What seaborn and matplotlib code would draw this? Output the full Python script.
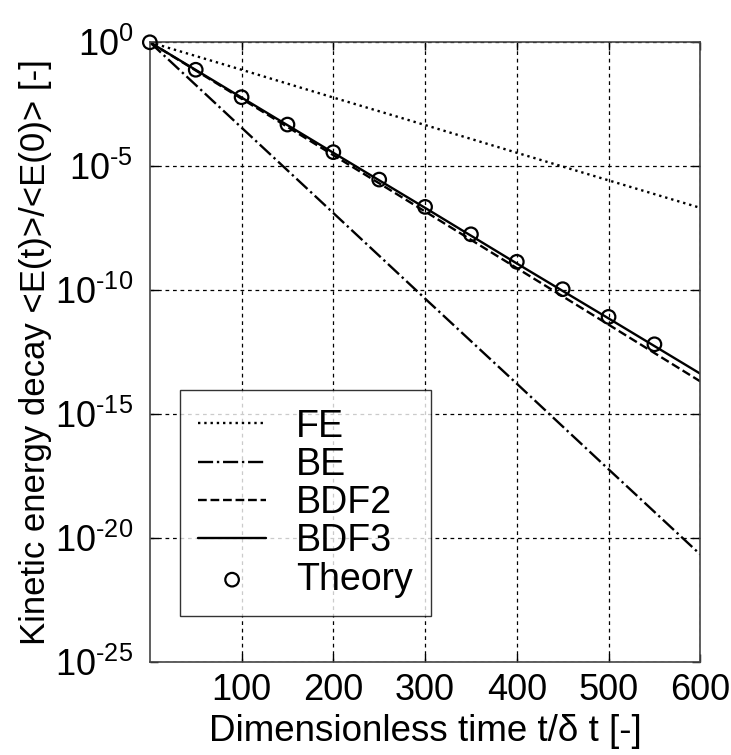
import numpy as np
import pandas as pd
import matplotlib
matplotlib.use("Agg")
import matplotlib.pyplot as plt
import seaborn as sns

# ---- data ----
t_lines = [0, 100, 200, 300, 400, 500, 600]
fe   = [1.0, 7.8e-2, 5.9e-3, 4.6e-4, 3.5e-5, 2.7e-6, 2.1e-7]
be   = [1.0, 3.6e-4, 1.3e-7, 4.6e-11, 1.7e-14, 6.0e-18, 2.2e-21]
bdf2 = [1.0, 5.3e-3, 2.8e-5, 1.5e-7, 7.8e-10, 4.1e-12, 2.1e-14]
bdf3 = [1.0, 5.9e-3, 3.5e-5, 2.1e-7, 1.2e-9, 7.3e-12, 4.3e-14]

t_theory = [0, 50, 100, 150, 200, 250, 300, 350, 400, 450, 500, 550]
theory = [1.0, 7.8e-2, 6.1e-3, 4.8e-4, 3.7e-5, 2.9e-6, 2.3e-7, 1.8e-8,
          1.4e-9, 1.1e-10, 8.4e-12, 6.6e-13]

series_names = ["FE", "BE", "BDF2", "BDF3"]
series_vals = [fe, be, bdf2, bdf3]
x_ticks = [100, 200, 300, 400, 500, 600]
y_ticks = [1e0, 1e-5, 1e-10, 1e-15, 1e-20, 1e-25]

sns.set_theme(style="ticks")
plt.rcParams["font.family"] = ["Liberation Sans", "DejaVu Sans"]
plt.rcParams["mathtext.fontset"] = "custom"
plt.rcParams["mathtext.rm"] = "Liberation Sans"
plt.rcParams["mathtext.default"] = "regular"
plt.rcParams["text.color"] = "black"
plt.rcParams["axes.labelcolor"] = "black"
plt.rcParams["xtick.color"] = "black"
plt.rcParams["ytick.color"] = "black"

fig = plt.figure(figsize=(7.31, 7.55), dpi=100)
ax = fig.add_axes([0.205, 0.123, 0.753, 0.821])

styles = {"FE": ":", "BE": "-.", "BDF2": "--", "BDF3": "-"}
for name, vals in zip(series_names, series_vals):
    df = pd.DataFrame({"t": t_lines, "E": vals})
    sns.lineplot(data=df, x="t", y="E", ax=ax, color="black",
                 linestyle=styles[name], linewidth=1.7, label=name)

dft = pd.DataFrame({"t": t_theory, "E": theory})
sns.scatterplot(data=dft, x="t", y="E", ax=ax, marker="o", s=95,
                facecolors="none", edgecolor="black", linewidth=1.6,
                label="Theory", zorder=5, clip_on=False)

ax.set_yscale("log")
ax.set_xlim(0, 600)
ax.set_ylim(1e-25, 1e0)
ax.set_xticks(x_ticks)
ax.set_xticklabels([str(v) for v in x_ticks])
ax.set_yticks(y_ticks)
ax.set_yticklabels([r"$10^{\text{%d}}$" % int(np.log10(v)) for v in y_ticks])
ax.yaxis.set_minor_locator(matplotlib.ticker.NullLocator())
ax.grid(True, which="major", color="black", linestyle=(0, (3, 3)), linewidth=0.9)
ax.tick_params(direction="in", length=6, width=1, labelsize=26,
               top=True, right=True)
ax.tick_params(axis="y", pad=12)
ax.tick_params(axis="x", pad=8)
for sp in ax.spines.values():
    sp.set_color("#444444")
    sp.set_linewidth(1.2)

ax.set_xlabel("Dimensionless time t/δ t [-]", fontsize=26.5, labelpad=4)
ax.set_ylabel("Kinetic energy decay <E(t)>/<E(0)> [-]", fontsize=25, labelpad=2)

leg = ax.legend(loc="lower left", bbox_to_anchor=(0.054, 0.074), fontsize=27,
                frameon=True, fancybox=False, edgecolor="black",
                handlelength=1.8, borderaxespad=0, labelspacing=0.06,
                handletextpad=0.8, borderpad=0.5, markerscale=1.0)
leg.get_frame().set_linewidth(1.0)

fig.savefig("out.png", dpi=100)
